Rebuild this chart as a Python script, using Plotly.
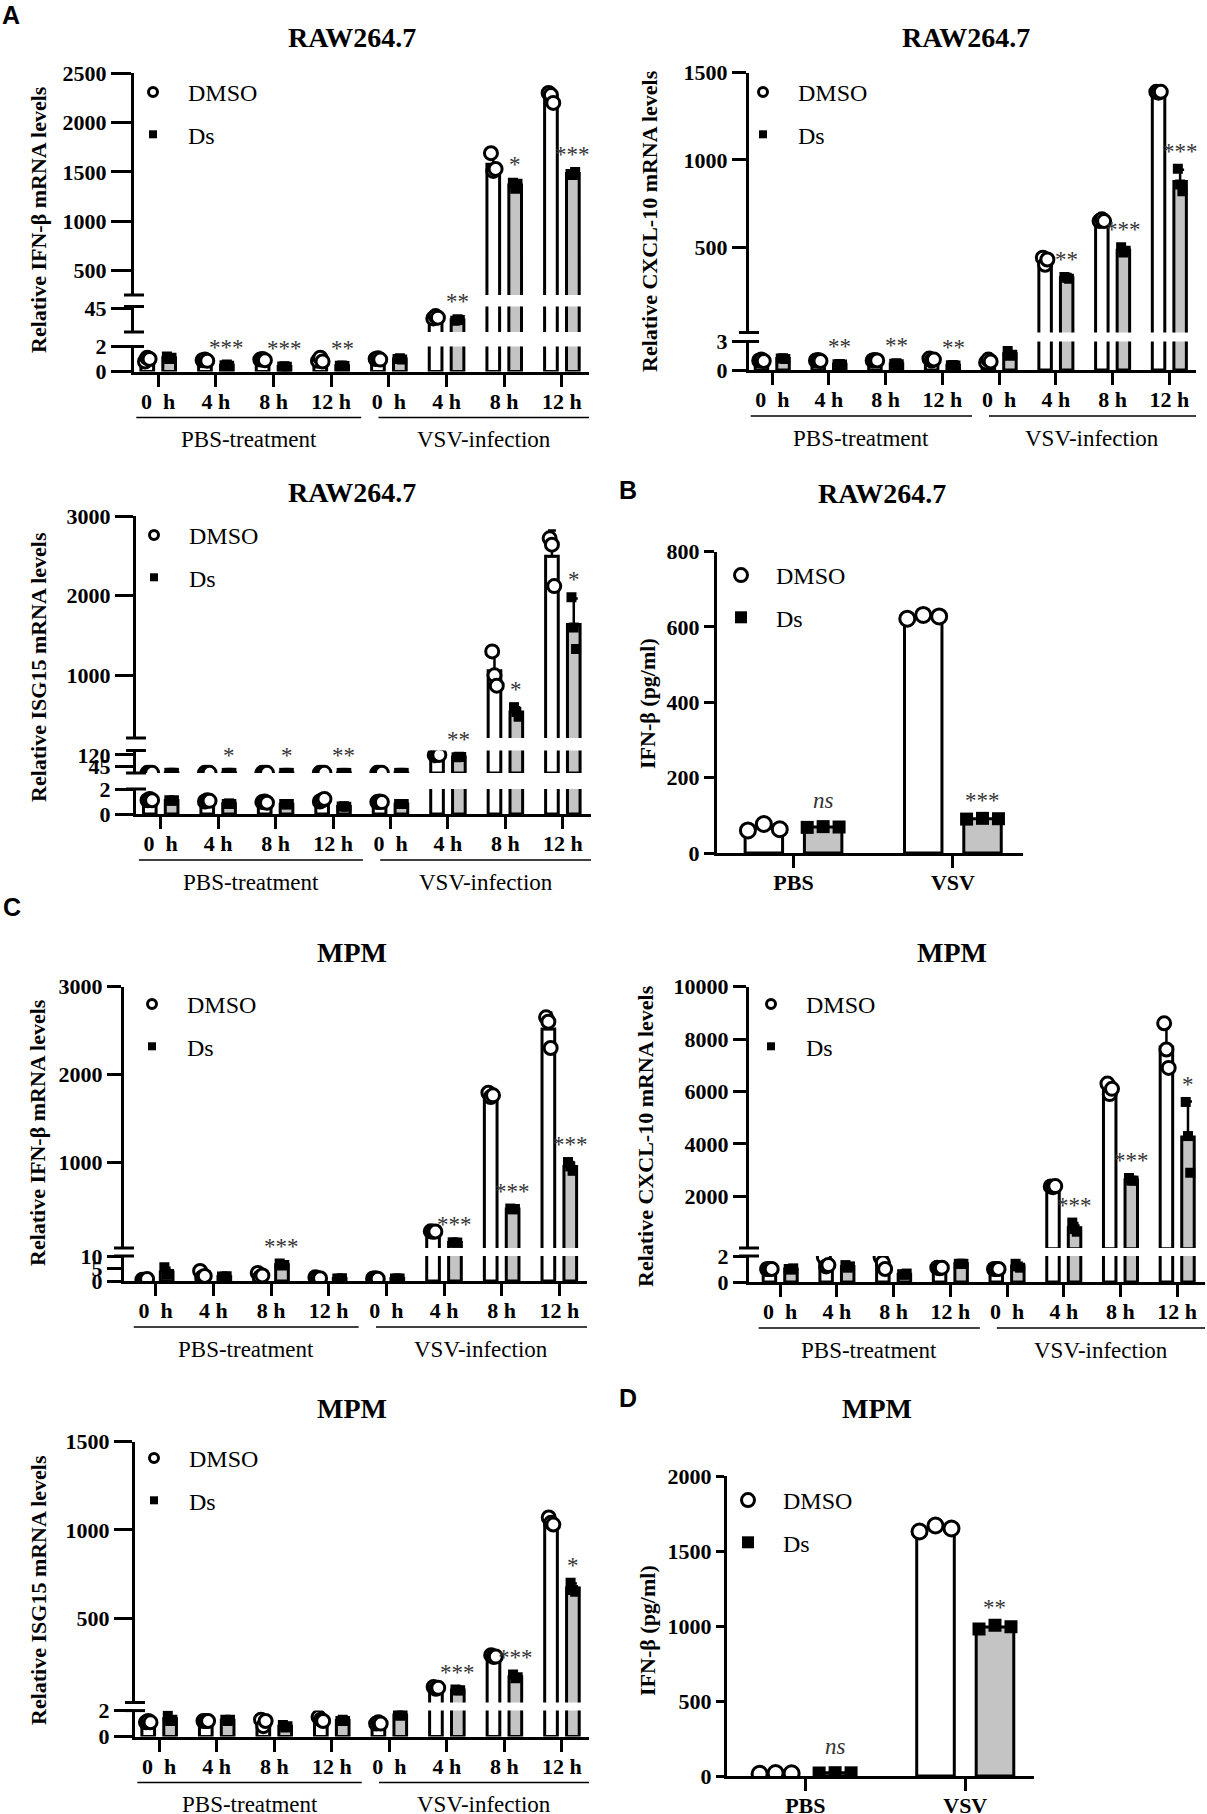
import numpy as np
import plotly.graph_objects as go

W, H = 1207, 1814
SERIF = "Liberation Serif"
SANS = "Liberation Sans"

# ---------------- data ----------------
time_labels = ["0\u2002h", "4 h", "8 h", "12 h", "0\u2002h", "4 h", "8 h", "12 h"]
treat_labels = ["PBS-treatment", "VSV-infection"]
elisa_labels = ["PBS", "VSV"]
series_names = ["DMSO", "Ds"]

# RAW264.7 IFN-beta mRNA (3 replicates per condition)
raw_ifnb_dmso = [[0.8, 1.1, 1.0], [0.9, 0.95, 0.85], [0.95, 1.0, 0.9], [0.85, 1.1, 0.8],
                 [1.0, 1.05, 0.95], [38.5, 40, 39], [1690, 1510, 1530], [2300, 2280, 2200]]
raw_ifnb_ds = [[1.2, 1.0, 1.1], [0.5, 0.55, 0.45], [0.4, 0.42, 0.38], [0.45, 0.47, 0.43],
               [1.0, 1.05, 0.95], [37, 38, 37.5], [1390, 1330, 1380], [1480, 1470, 1500]]
raw_ifnb_sig = ["", "***", "***", "**", "", "**", "*", "***"]

# RAW264.7 CXCL-10 mRNA
raw_cxcl_dmso = [[1.0, 1.1, 0.95], [1.0, 1.05, 0.95], [1.0, 1.05, 1.0], [1.2, 1.0, 1.1],
                 [0.8, 1.1, 0.9], [440, 400, 430], [650, 660, 650], [1390, 1385, 1390]]
raw_cxcl_ds = [[1.2, 1.25, 1.15], [0.6, 0.62, 0.58], [0.65, 0.7, 0.6], [0.5, 0.52, 0.48],
               [2.0, 1.5, 1.6], [330, 325, 320], [500, 470, 480], [950, 860, 820]]
raw_cxcl_sig = ["", "**", "**", "**", "", "**", "***", "***"]

# RAW264.7 ISG15 mRNA
raw_isg_dmso = [[1.1, 1.2, 1.1], [1.0, 1.1, 1.05], [0.95, 1.0, 0.9], [1.0, 1.1, 1.2],
                [0.95, 1.0, 0.95], [118, 122, 120], [1300, 1000, 870], [2720, 2640, 2120]]
raw_isg_ds = [[1.1, 1.05, 1.1], [0.8, 0.85, 0.8], [0.8, 0.75, 0.8], [0.6, 0.62, 0.58],
              [0.8, 0.8, 0.8], [105, 107, 106], [600, 540, 480], [1980, 1600, 1330]]
raw_isg_sig = ["", "*", "*", "**", "", "**", "*", "*"]

# RAW264.7 IFN-beta ELISA (pg/ml)
raw_elisa_dmso = [[60, 77, 63], [622, 632, 628]]
raw_elisa_ds = [[68, 70, 69], [90, 92, 91]]
raw_elisa_sig = ["ns", "***"]

# MPM IFN-beta mRNA
mpm_ifnb_dmso = [[0.5, 0.3, 0.8], [4.0, 1.5, 2.0], [3.2, 1.5, 2.2], [1.5, 1.0, 1.1],
                 [1.0, 1.1, 0.9], [210, 205, 208], [1790, 1740, 1760], [2650, 2600, 2300]]
mpm_ifnb_ds = [[5.5, 2.5, 2.8], [1.8, 1.7, 1.9], [7.0, 6.2, 6.4], [1.0, 0.9, 1.1],
               [1.0, 1.0, 1.0], [85, 80, 82], [470, 460, 465], [1000, 950, 900]]
mpm_ifnb_sig = ["", "", "***", "", "", "***", "***", "***"]

# MPM CXCL-10 mRNA
mpm_cxcl_dmso = [[1.0, 1.0, 1.0], [1.9, 1.2, 1.3], [1.9, 1.5, 1.0], [1.1, 1.05, 1.1],
                 [1.0, 1.0, 1.0], [2380, 2350, 2390], [6300, 5900, 6100], [8600, 7600, 6900]]
mpm_cxcl_ds = [[1.0, 0.95, 1.05], [1.3, 1.1, 1.2], [0.6, 0.55, 0.65], [1.4, 1.4, 1.4],
               [1.4, 1.2, 1.1], [1000, 750, 650], [2700, 2600, 2600], [5600, 4300, 2900]]
mpm_cxcl_sig = ["", "", "", "", "", "***", "***", "*"]

# MPM ISG15 mRNA
mpm_isg_dmso = [[1.1, 1.2, 1.1], [1.2, 1.2, 1.2], [1.3, 0.8, 1.2], [1.5, 1.3, 1.2],
                [1.0, 1.1, 1.0], [110, 100, 105], [290, 280, 282], [1070, 1040, 1030]]
mpm_isg_ds = [[1.6, 1.2, 1.3], [1.3, 1.2, 1.3], [0.9, 0.7, 0.8], [1.2, 1.3, 1.2],
              [1.7, 1.6, 1.7], [95, 90, 92], [180, 160, 165], [700, 660, 650]]
mpm_isg_sig = ["", "", "", "", "", "***", "***", "*"]

# MPM IFN-beta ELISA (pg/ml)
mpm_elisa_dmso = [[15, 20, 18], [1630, 1670, 1650]]
mpm_elisa_ds = [[20, 22, 21], [980, 1005, 995]]
mpm_elisa_sig = ["ns", "**"]

# ---------------- helpers ----------------
def X(p):
    return p / W


def Y(p):
    return 1 - p / H


fig = go.Figure()
lay = {}
annotations = []
shapes = []
cnt = {"x": 0, "y": 0, "legend": 0}


def new_axis(kind):
    cnt[kind] += 1
    n = cnt[kind]
    name = kind if n == 1 else f"{kind}{n}"
    key = ("xaxis" if kind == "x" else "yaxis") + ("" if n == 1 else str(n))
    return name, key


def new_legend():
    cnt["legend"] += 1
    n = cnt["legend"]
    return "legend" if n == 1 else f"legend{n}"


TICKFONT = dict(family=SERIF, size=22, color="black", weight="bold")


def stats(reps):
    a = np.array(reps, float)
    return a.mean(axis=1), a.std(axis=1, ddof=1)


def text(x, y, s, size, family=SERIF, angle=0, color="black", **kw):
    annotations.append(dict(x=x, y=y, text=s, showarrow=False, textangle=angle,
                            xanchor="center", yanchor="middle",
                            font=dict(family=family, size=size, color=color), **kw))


def panel(dmso, ds, sig, cats, xpx, xrange, segs, legend_px, title, title_px,
          ytitle, ytitle_px, ylen=18, offset=0.19, width=0.22, jitter=(-0.04, 0, 0.04),
          msize=(13, 10), lsize=(9, 8), groups=True):
    xname, xkey = new_axis("x")
    leg = new_legend()
    seg_axes = []
    for k, (ptop, pbot, rmin, rmax, tv) in enumerate(segs):
        yname, ykey = new_axis("y")
        seg_axes.append((yname, rmin, rmax))
        lay[ykey] = dict(domain=[Y(pbot), Y(ptop)], range=[rmin, rmax], anchor=xname,
                         tickvals=tv, ticktext=[f"{v:g}" for v in tv],
                         ticks="outside", ticklen=ylen, tickwidth=3, tickcolor="black",
                         showline=True, linewidth=3, linecolor="black", automargin=False,
                         showgrid=False, zeroline=False, tickfont=TICKFONT, fixedrange=True)
        if k > 0:
            shapes.append(dict(type="line", xref="paper", yref=f"{yname} domain",
                               x0=X(xpx[0] - 10), x1=X(xpx[0] + 10), y0=0, y1=0,
                               line=dict(color="black", width=3)))
        if k < len(segs) - 1:
            shapes.append(dict(type="line", xref="paper", yref=f"{yname} domain",
                               x0=X(xpx[0] - 10), x1=X(xpx[0] + 10), y0=1, y1=1,
                               line=dict(color="black", width=3)))
    lay[xkey] = dict(domain=[X(xpx[0]), X(xpx[1])], range=xrange, anchor=seg_axes[0][0],
                     tickvals=list(range(len(cats))), ticktext=cats,
                     ticks="outside", ticklen=12, tickwidth=3, tickcolor="black",
                     ticklabelstandoff=-4,
                     showline=True, linewidth=3, linecolor="black", automargin=False,
                     showgrid=False, zeroline=False, tickfont=TICKFONT, fixedrange=True)

    dm, dsd = stats(dmso)
    sm, ssd = stats(ds)
    n = len(cats)
    pos_d = [i - offset for i in range(n)]
    pos_s = [i + offset for i in range(n)]
    pts_dx = [p + j for p in pos_d for j in jitter]
    pts_sx = [p + j for p in pos_s for j in jitter]
    pts_dy = [v for r in dmso for v in r]
    pts_sy = [v for r in ds for v in r]
    for k, (yname, rmin, rmax) in enumerate(seg_axes):
        for pos, mean, sd, fill in ((pos_d, dm, dsd, "white"), (pos_s, sm, ssd, "#c4c4c4")):
            # only bars that reach into this segment are drawn in it
            yv = [m if m > rmin else None for m in mean]
            fig.add_bar(x=pos, y=yv, width=width, xaxis=xname, yaxis=yname,
                        marker=dict(color=fill, line=dict(color="black", width=3)),
                        error_y=dict(type="data", array=list(sd), arrayminus=[0] * n,
                                     symmetric=False, color="black", thickness=2.5, width=4),
                        showlegend=False, hoverinfo="skip")
        dy = [v if v > rmin else None for v in pts_dy]
        sy = [v if v > rmin else None for v in pts_sy]
        fig.add_scatter(x=pts_dx, y=dy, mode="markers", xaxis=xname, yaxis=yname,
                        marker=dict(symbol="circle", size=msize[0], color="white",
                                    line=dict(color="black", width=3)),
                        showlegend=False, hoverinfo="skip")
        fig.add_scatter(x=pts_sx, y=sy, mode="markers", xaxis=xname, yaxis=yname,
                        marker=dict(symbol="square", size=msize[1], color="black",
                                    line=dict(color="black", width=0)),
                        showlegend=False, hoverinfo="skip")
    # legend entries
    fig.add_scatter(x=[None], y=[None], mode="markers", xaxis=xname, yaxis=seg_axes[0][0],
                    marker=dict(symbol="circle", size=lsize[0], color="white",
                                line=dict(color="black", width=3)),
                    name=series_names[0], legend=leg, legendgroup=leg + "d", showlegend=True)
    fig.add_scatter(x=[None], y=[None], mode="markers", xaxis=xname, yaxis=seg_axes[0][0],
                    marker=dict(symbol="square", size=lsize[1], color="black",
                                line=dict(color="black", width=0)),
                    name=series_names[1], legend=leg, legendgroup=leg + "s", showlegend=True)

    # significance marks
    for i in range(n):
        if not sig[i]:
            continue
        top = max(max(ds[i]), sm[i] + ssd[i])
        chosen = seg_axes[0][0]
        for yname, rmin, rmax in seg_axes:
            if rmin <= top <= rmax * 1.05:
                chosen = yname
        txt = "<i>ns</i>" if sig[i] == "ns" else sig[i]
        annotations.append(dict(x=pos_s[i], y=top, xref=xname, yref=chosen,
                                xanchor="center", yanchor="bottom", showarrow=False, text=txt,
                                yshift=(12 if sig[i] == "ns" else 3),
                                font=dict(family=SERIF, size=23, color="#333333")))

    # group labels under the time axis
    if groups:
        pbot = segs[0][1]
        for (a, b), lab in zip(((-0.38, 3.52), (3.82, xrange[1])), treat_labels):
            shapes.append(dict(type="line", xref=xname, yref="paper", x0=a, x1=b,
                               y0=Y(pbot + 46), y1=Y(pbot + 46),
                               line=dict(color="black", width=1.5)))
            text((a + b) / 2, Y(pbot + 68), lab, 23, xref=xname, yref="paper")
    text(X(title_px[0]), Y(title_px[1]), f"<b>{title}</b>", 28, xref="paper", yref="paper")
    text(X(ytitle_px[0]), Y(ytitle_px[1]), f"<b>{ytitle}</b>", 22, angle=-90,
         xref="paper", yref="paper")
    lay[leg] = dict(x=X(legend_px[0] - 35), y=Y(legend_px[1] - 24), xanchor="left",
                    yanchor="top", bgcolor="rgba(0,0,0,0)", tracegroupgap=8, itemwidth=60,
                    font=dict(family=SERIF, size=24, color="black"))


# ---------------- panels ----------------
panel(raw_ifnb_dmso, raw_ifnb_ds, raw_ifnb_sig, time_labels, (134, 589), [-0.42, 7.47],
      [(346.5, 371.5, 0, 2, [0, 2]), (306.5, 332, 30, 46, [45]),
       (73.3, 295, 252, 2500, [500, 1000, 1500, 2000, 2500])],
      (153, 94), "RAW264.7", (352, 38), "Relative IFN-β mRNA levels", (38, 220), ylen=20)

panel(raw_cxcl_dmso, raw_cxcl_ds, raw_cxcl_sig, time_labels, (749, 1196), [-0.41, 7.47],
      [(341.5, 370, 0, 3, [0, 3]), (72.6, 332.5, 12, 1500, [500, 1000, 1500])],
      (763, 94), "RAW264.7", (966, 38), "Relative CXCL-10 mRNA levels", (650, 221), ylen=14)

panel(raw_isg_dmso, raw_isg_ds, raw_isg_sig, time_labels, (136, 591), [-0.43, 7.49],
      [(789, 814, 0, 2, [0, 2]), (750.5, 773, 0, 149, [45, 120]),
       (516, 738, 213, 3000, [1000, 2000, 3000])],
      (154, 537), "RAW264.7", (352, 492), "Relative ISG15 mRNA levels", (38, 667), ylen=18)

panel(raw_elisa_dmso, raw_elisa_ds, raw_elisa_sig, elisa_labels, (717, 1023), [-0.48, 1.44],
      [(551.6, 853, 0, 800, [0, 200, 400, 600, 800])],
      (741, 577), "RAW264.7", (882, 493), "IFN-β (pg/ml)", (647, 703), ylen=10,
      offset=0.186, width=0.235, jitter=(-0.1, 0, 0.1), msize=(15, 13), lsize=(13, 12),
      groups=False)

panel(mpm_ifnb_dmso, mpm_ifnb_ds, mpm_ifnb_sig, time_labels, (124, 587), [-0.55, 7.48],
      [(1256, 1281, 0, 10, [0, 5, 10]), (986.6, 1248, 20, 3000, [1000, 2000, 3000])],
      (152, 1006), "MPM", (352, 952), "Relative IFN-β mRNA levels", (37, 1133), ylen=14)

panel(mpm_cxcl_dmso, mpm_cxcl_ds, mpm_cxcl_sig, time_labels, (749, 1205), [-0.55, 7.49],
      [(1256, 1282, 0, 2, [0, 2]), (986.6, 1248, 30, 10000, [2000, 4000, 6000, 8000, 10000])],
      (771, 1006), "MPM", (952, 952), "Relative CXCL-10 mRNA levels", (645, 1136), ylen=13)

panel(mpm_isg_dmso, mpm_isg_ds, mpm_isg_sig, time_labels, (135, 589), [-0.42, 7.47],
      [(1710.6, 1736.6, 0, 2, [0, 2]), (1441.6, 1702.5, 22, 1500, [500, 1000, 1500])],
      (154, 1460), "MPM", (352, 1408), "Relative ISG15 mRNA levels", (38, 1590), ylen=18)

panel(mpm_elisa_dmso, mpm_elisa_ds, mpm_elisa_sig, elisa_labels, (727, 1034), [-0.49, 1.43],
      [(1476, 1776, 0, 2000, [0, 500, 1000, 1500, 2000])],
      (748, 1502), "MPM", (877, 1408), "IFN-β (pg/ml)", (647, 1630), ylen=8,
      offset=0.186, width=0.235, jitter=(-0.1, 0, 0.1), msize=(15, 13), lsize=(13, 12),
      groups=False)

# panel letters
for letter, (px, py) in zip("ABCD", [(11, 15), (628, 490), (12, 907), (628, 1398)]):
    text(X(px), Y(py), f"<b>{letter}</b>", 25, family=SANS, xref="paper", yref="paper")

fig.update_layout(width=W, height=H, margin=dict(l=0, r=0, t=0, b=0, autoexpand=False),
                  paper_bgcolor="white", plot_bgcolor="white", barmode="overlay",
                  showlegend=True, annotations=annotations, shapes=shapes, **lay)
fig.write_html("out.html", config={"displayModeBar": False},
               post_script="document.body.style.margin='0px';")
